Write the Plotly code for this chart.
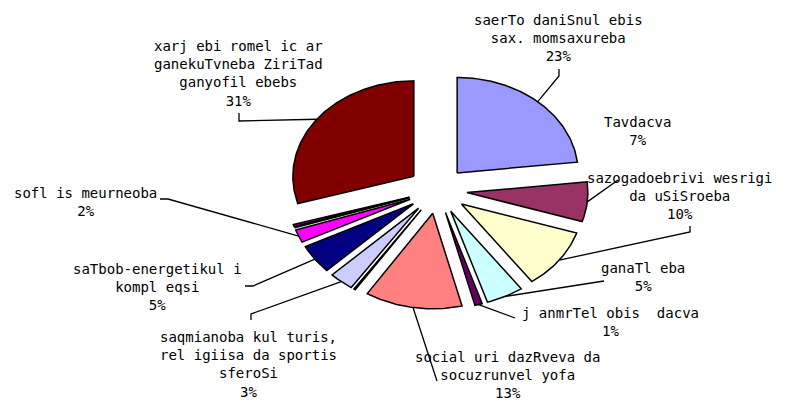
import numpy as np
import plotly.graph_objects as go

# ---------------- data ----------------
categories = [
    "saerTo daniSnul ebis sax. momsaxureba",
    "Tavdacva",
    "sazogadoebrivi wesrigi da uSiSroeba",
    "ganaTl eba",
    "j anmrTel obis  dacva",
    "social uri dazRveva da socuzrunvel yofa",
    "(sxva 1)",
    "saqmianoba kul turis, rel igiisa da sportis sferoSi",
    "saTbob-energetikul i kompl eqsi",
    "sofl is meurneoba",
    "(sxva 2)",
    "(sxva 3)",
    "(sxva 4)",
    "xarj ebi romel ic ar ganekuTvneba ZiriTad ganyofil ebebs",
]
values = [23.2, 6.7, 10.2, 5.0, 1.0, 13.0, 0.3, 3.3, 4.9, 2.2, 0.1, 0.1, 0.4, 29.6]
pct_labels = ["23%", "7%", "10%", "5%", "1%", "13%", "", "3%", "5%", "2%", "", "", "", "31%"]
label_text = [
    "saerTo daniSnul ebis<br>sax. momsaxureba",
    "Tavdacva",
    "sazogadoebrivi wesrigi<br>da uSiSroeba",
    "ganaTl eba",
    "j anmrTel obis  dacva",
    "social uri dazRveva da<br>socuzrunvel yofa",
    "",
    "saqmianoba kul turis,<br>rel igiisa da sportis<br>sferoSi",
    "saTbob-energetikul i<br>kompl eqsi",
    "sofl is meurneoba",
    "", "", "",
    "xarj ebi romel ic ar<br>ganekuTvneba ZiriTad<br>ganyofil ebebs",
]
colors = ["#9999FF", "#993366", "#FFFFCC", "#CCFFFF", "#660066", "#FF8080", "#0066CC",
          "#CCCCFF", "#000080", "#FF00FF", "#FFFF00", "#00FFFF", "#800080", "#800000"]

# ---------------- layout constants ----------------
W, H = 789, 406
OFF = 8  # page body margin
CX, CY = 437.5, 190.3
RX, RY = 121.0, 95.5
EXPLODE = 0.244

label_pos = [(558, 38), (637, 131), (679, 196), (643, 277), (610, 322), (507, 375), None,
             (248, 364), (157, 287), (85, 202), None, None, None, (238, 73)]
leader_pts = [
    [(559, 69), (559, 76)],
    [(618, 180)],
    [(690, 226), (690, 232)],
    [(604, 281)],
    [(515, 318)],
    [(437, 381)],
    None,
    [(251, 320), (251, 314)],
    [(245, 286), (253, 286)],
    [(160, 199), (168, 199)],
    None, None, None,
    [(239, 113), (239, 121)],
]

fig = go.Figure()
total = float(sum(values))
start = 0.0
mids = []
for i, v in enumerate(values):
    a0 = start
    a1 = start + 2 * np.pi * v / total
    start = a1
    m = 0.5 * (a0 + a1)
    ax = CX + EXPLODE * RX * np.sin(m)
    ay = CY - EXPLODE * RY * np.cos(m)
    t = np.linspace(a0, a1, max(3, int(120 * v / total * 4) + 3))
    xs = np.concatenate([[ax], ax + RX * np.sin(t), [ax]])
    ys = np.concatenate([[ay], ay - RY * np.cos(t), [ay]])
    fig.add_trace(go.Scatter(x=xs, y=ys, mode="lines", fill="toself",
                             fillcolor=colors[i], line=dict(color="black", width=1.5),
                             name=categories[i], hoverinfo="name", showlegend=False))
    mids.append((ax + RX * np.sin(m), ay - RY * np.cos(m)))

# leader lines
for i, pts in enumerate(leader_pts):
    if not pts:
        continue
    xs = [p[0] for p in pts] + [mids[i][0]]
    ys = [p[1] for p in pts] + [mids[i][1]]
    fig.add_trace(go.Scatter(x=xs, y=ys, mode="lines", line=dict(color="black", width=1.3),
                             hoverinfo="skip", showlegend=False))

# labels
for i, pos in enumerate(label_pos):
    if pos is None:
        continue
    fig.add_annotation(x=pos[0], y=pos[1], xref="x", yref="y",
                       text=label_text[i] + "<br>" + pct_labels[i],
                       showarrow=False, align="center", xanchor="center", yanchor="middle",
                       font=dict(family="DejaVu Sans Mono", size=14, color="black"))

fig.update_layout(
    width=W - OFF, height=H - OFF,
    margin=dict(l=0, r=0, t=0, b=0),
    paper_bgcolor="white", plot_bgcolor="white",
    xaxis=dict(range=[OFF, W], visible=False, fixedrange=True),
    yaxis=dict(range=[H, OFF], visible=False, fixedrange=True),
)
fig.write_html("out.html")
